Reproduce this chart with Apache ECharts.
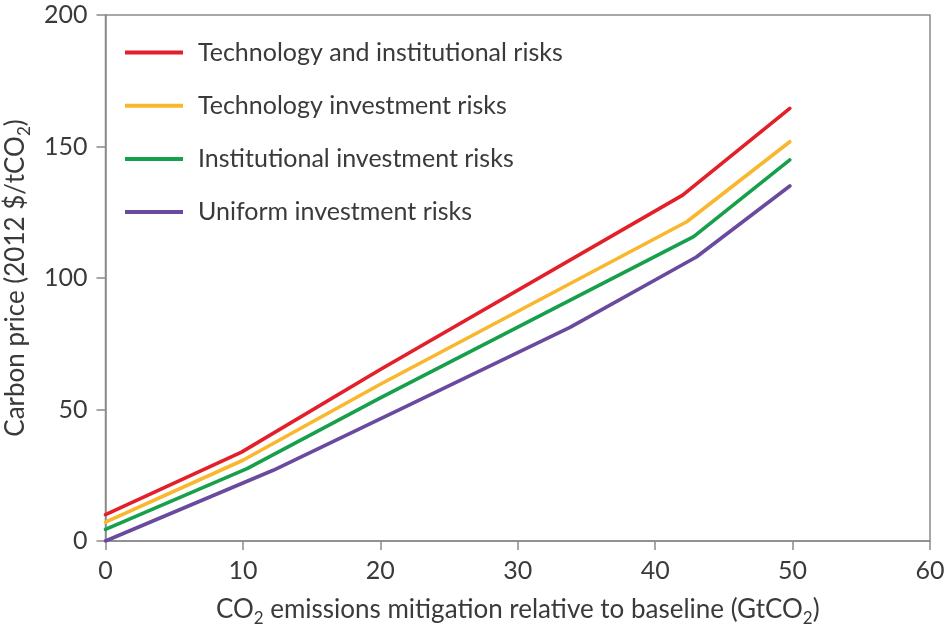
<!DOCTYPE html>
<html>
<head>
<meta charset="utf-8">
<script src="https://cdn.jsdelivr.net/npm/echarts@6/dist/echarts.min.js"></script>
<style>
html,body{margin:0;padding:0;background:#fff;}
#chart{width:946px;height:636px;}
</style>
</head>
<body>
<div id="chart"></div>
<script>
const seriesNames = [
  'Technology and institutional risks',
  'Technology investment risks',
  'Institutional investment risks',
  'Uniform investment risks'
];
const techInstRisks = [[0, 10], [9.9, 33.8], [20, 65.2], [42, 131.5], [49.8, 164.5]];
const techRisks = [[0, 7.2], [10, 30.7], [20, 59.6], [42.3, 121.4], [49.8, 151.8]];
const instRisks = [[0, 4.4], [10.3, 27.5], [20, 54.4], [42.8, 115.7], [49.8, 144.9]];
const uniformRisks = [[0, 0], [12.2, 26.9], [22, 51.5], [33.8, 81.2], [43, 108], [49.8, 135]];
const xTicks = [0, 10, 20, 30, 40, 50, 60];
const yTicks = [0, 50, 100, 150, 200];

const colors = ['#e3202a', '#f9b72d', '#17a04c', '#6a4a9e'];
const fontFamily = 'Lato';
const textColor = '#3a3a3a';
const axisColor = '#8a8a8a';

const chart = echarts.init(document.getElementById('chart'), null, {renderer: 'canvas'});
const allData = [techInstRisks, techRisks, instRisks, uniformRisks];

const option = {
  backgroundColor: '#fff',
  animation: false,
  grid: {
    left: 105.5, right: 16, top: 15, bottom: 95,
    outerBoundsMode: 'none', containLabel: false,
    show: true, borderColor: axisColor, borderWidth: 1.5, backgroundColor: 'transparent'
  },
  legend: {
    orient: 'vertical',
    left: 120, top: 35,
    itemWidth: 58, itemHeight: 22, itemGap: 28.2,
    data: seriesNames.map((n) => ({name: n, icon: 'path://M0,0 L58,0 L58,4 L0,4 Z'})),
    textStyle: {fontFamily, fontSize: 25, color: textColor, padding: [0, 0, 0, 10]}
  },
  xAxis: {
    type: 'value', min: xTicks[0], max: xTicks[xTicks.length - 1], interval: 10,
    splitLine: {show: false},
    axisLine: {show: true, onZero: false, lineStyle: {color: axisColor, width: 1.5}},
    axisTick: {show: true, inside: false, length: 9, lineStyle: {color: axisColor, width: 1.5}},
    axisLabel: {fontFamily, fontSize: 25, color: textColor, margin: 17},
    nameLocation: 'middle', nameGap: 52,
    name: '{a|CO}{s|2}{a| emissions mitigation relative to baseline (GtCO}{s|2}{a|)}',
    nameTextStyle: {
      rich: {
        a: {fontFamily, fontSize: 26, color: textColor, lineHeight: 34, verticalAlign: 'middle'},
        s: {fontFamily, fontSize: 17, color: textColor, lineHeight: 17, verticalAlign: 'bottom'}
      }
    }
  },
  yAxis: {
    type: 'value', min: yTicks[0], max: yTicks[yTicks.length - 1], interval: 50,
    splitLine: {show: false},
    axisLine: {show: true, lineStyle: {color: axisColor, width: 1.5}},
    axisTick: {show: true, inside: false, length: 9, lineStyle: {color: axisColor, width: 1.5}},
    axisLabel: {fontFamily, fontSize: 25, color: textColor, margin: 18},
    nameLocation: 'middle', nameGap: 72, nameRotate: 90,
    name: '{a|Carbon price (2012 $/tCO}{s|2}{a|)}',
    nameTextStyle: {
      rich: {
        a: {fontFamily, fontSize: 26, color: textColor, lineHeight: 34, verticalAlign: 'middle'},
        s: {fontFamily, fontSize: 17, color: textColor, lineHeight: 17, verticalAlign: 'bottom'}
      }
    }
  },
  series: seriesNames.map((n, i) => ({
    name: n, type: 'line', data: allData[i],
    symbol: 'none', smooth: false,
    lineStyle: {color: colors[i], width: 3.6, cap: 'round', join: 'round'},
    itemStyle: {color: colors[i]}
  }))
};
chart.setOption(option);
</script>
</body>
</html>
